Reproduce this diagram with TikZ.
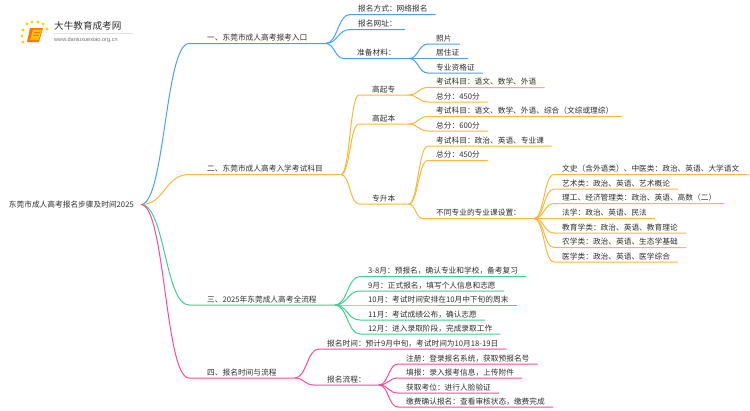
\documentclass[tikz,border=0pt]{standalone}
\usepackage{fontspec}
\setmainfont{Noto Sans CJK SC}
\newfontfamily\urlfont{Liberation Sans}
\usetikzlibrary{calc}
\definecolor{mapblue}{HTML}{4A9FFB}
\definecolor{maporange}{HTML}{FBB73C}
\definecolor{mapgreen}{HTML}{3FD08F}
\definecolor{mappink}{HTML}{FB4A96}
\definecolor{maptext}{HTML}{2E2E2E}
\tikzstyle{every node}=[font=\fontsize{7.7}{9}\selectfont, text=maptext, text height=6.6pt, text depth=1.4pt, inner ysep=1pt]
\tikzstyle{title} = [anchor=east, inner xsep=7pt, inner ysep=0pt]
\tikzstyle{topic} = [anchor=south west, inner xsep=18pt]
\tikzstyle{mid} = [anchor=south west, inner xsep=13pt]
\tikzstyle{leaf} = [anchor=south west, inner xsep=8pt]
\tikzstyle{branch} = [to path={let \p1=(\tikztostart), \p2=(\tikztotarget) in .. controls (\x1*0.5+\x2*0.5,\y1) and (\x1*0.5+\x2*0.5,\y2) .. (\p2) \tikztonodes}]
\tikzstyle{lineblue} = [draw=mapblue, line width=1pt]
\tikzstyle{lineorange} = [draw=maporange, line width=1pt]
\tikzstyle{linegreen} = [draw=mapgreen, line width=1pt]
\tikzstyle{linepink} = [draw=mappink, line width=1pt]
\begin{document}
\begin{tikzpicture}[x=1pt, y=-1pt]
    \useasboundingbox (0,0) rectangle (750,410);
    % Logo
    \fill[orange!90!red] (30,28) -- (43,28) -- (39,42) -- (27,42) -- cycle;
    \fill[yellow!55!orange] (33,29.5) -- (42,29.5) -- (38.6,40) -- (30,40) -- cycle;
    \draw[orange!90!red, line width=0.5pt] (33.5,32.5) -- (40,32.5) (33,35) -- (39.3,35);
    \foreach \dotx/\doty in {23/30, 27/24, 32/22, 38/22, 43/24, 47/29, 22/36, 23/42}
        \fill[yellow!70!orange] (\dotx,\doty) circle (1.7);
    \draw[black!12, line width=0.5pt] (54,33) -- (133,33);
    \node [anchor=west, inner sep=0pt, font=\fontsize{9.6}{11}\selectfont] (brand) at (54,27) {大牛教育成考网};
    \node [anchor=west, inner sep=0pt, font=\urlfont\fontsize{5.6}{7}\selectfont, text=black!55] (brandurl) at (54,38.5) {www.daniuxuexiao.org.cn};
    % Place nodes
    \node [title] (root) at (141,204.5) {东莞市成人高考报名步骤及时间2025};
    \node [topic] (portal) at (189,43.5) {一、东莞市成人高考报考入口};
    \node [topic] (subjects) at (189,174.5) {二、东莞市成人高考入学考试科目};
    \node [topic] (process) at (189,305) {三、2025年东莞成人高考全流程};
    \node [topic] (timing) at (189,378) {四、报名时间与流程};
    % first branch
    \node [leaf] (method) at (350,14.5) {报名方式：网络报名};
    \node [leaf] (website) at (350,29.5) {报名网址：};
    \node [mid] (material) at (344,58.5) {准备材料：};
    \node [leaf] (photo) at (428,44) {照片};
    \node [leaf] (idcard) at (428,58.5) {居住证};
    \node [leaf] (cert) at (428,73) {专业资格证};
    % second branch
    \node [mid] (junior) at (359,95) {高起专};
    \node [leaf] (jusubject) at (428,87.5) {考试科目：语文、数学、外语};
    \node [leaf] (juscore) at (428,102) {总分：450分};
    \node [mid] (bachelor) at (359,124) {高起本};
    \node [leaf] (basubject) at (428,116.5) {考试科目：语文、数学、外语、综合（文综或理综）};
    \node [leaf] (bascore) at (428,131) {总分：600分};
    \node [mid] (upgrade) at (359,204) {专升本};
    \node [leaf] (upsubject) at (428,146) {考试科目：政治、英语、专业课};
    \node [leaf] (upscore) at (428,160.5) {总分：450分};
    \node [mid] (major) at (423,218.5) {不同专业的专业课设置：};
    \node [leaf] (history) at (554,174.5) {文史（含外语类）、中医类：政治、英语、大学语文};
    \node [leaf] (art) at (554,189) {艺术类：政治、英语、艺术概论};
    \node [leaf] (science) at (554,203.5) {理工、经济管理类：政治、英语、高数（二）};
    \node [leaf] (law) at (554,218.5) {法学：政治、英语、民法};
    \node [leaf] (education) at (554,233) {教育学类：政治、英语、教育理论};
    \node [leaf] (farming) at (554,247.5) {农学类：政治、英语、生态学基础};
    \node [leaf] (medicine) at (554,262) {医学类：政治、英语、医学综合};
    % third branch
    \node [leaf] (march) at (360,276.5) {3-8月：预报名，确认专业和学校，备考复习};
    \node [leaf] (sept) at (360,291) {9月：正式报名，填写个人信息和志愿};
    \node [leaf] (oct) at (360,305) {10月：考试时间安排在10月中下旬的周末};
    \node [leaf] (nov) at (360,320) {11月：考试成绩公布，确认志愿};
    \node [leaf] (dec) at (360,334) {12月：进入录取阶段，完成录取工作};
    % fourth branch
    \node [leaf] (regtime) at (319,349) {报名时间：预计9月中旬，考试时间为10月18-19日};
    \node [mid] (regflow) at (314,385) {报名流程：};
    \node [leaf] (signup) at (398,364) {注册：登录报名系统，获取预报名号};
    \node [leaf] (entry) at (398,378) {填报：录入报考信息，上传附件};
    \node [leaf] (seat) at (398,393) {获取考位：进行人脸验证};
    \node [leaf] (payment) at (398,407) {缴费确认报名：查看审核状态，缴费完成};
    % Draw edges
    \path [lineblue] (root.east) to[branch] (portal.south west) -- (portal.south east);
    \path [lineorange] (root.east) to[branch] (subjects.south west) -- (subjects.south east);
    \path [linegreen] (root.east) to[branch] (process.south west) -- (process.south east);
    \path [linepink] (root.east) to[branch] (timing.south west) -- (timing.south east);
    \path [lineblue] (portal.south east) to[branch] (method.south west) -- (method.south east);
    \path [lineblue] (portal.south east) to[branch] (website.south west) -- (website.south east);
    \path [lineblue] (portal.south east) to[branch] (material.south west) -- (material.south east);
    \path [lineblue] (material.south east) to[branch] (photo.south west) -- (photo.south east);
    \path [lineblue] (material.south east) to[branch] (idcard.south west) -- (idcard.south east);
    \path [lineblue] (material.south east) to[branch] (cert.south west) -- (cert.south east);
    \path [lineorange] (subjects.south east) to[branch] (junior.south west) -- (junior.south east);
    \path [lineorange] (subjects.south east) to[branch] (bachelor.south west) -- (bachelor.south east);
    \path [lineorange] (subjects.south east) to[branch] (upgrade.south west) -- (upgrade.south east);
    \path [lineorange] (junior.south east) to[branch] (jusubject.south west) -- (jusubject.south east);
    \path [lineorange] (junior.south east) to[branch] (juscore.south west) -- (juscore.south east);
    \path [lineorange] (bachelor.south east) to[branch] (basubject.south west) -- (basubject.south east);
    \path [lineorange] (bachelor.south east) to[branch] (bascore.south west) -- (bascore.south east);
    \path [lineorange] (upgrade.south east) to[branch] (upsubject.south west) -- (upsubject.south east);
    \path [lineorange] (upgrade.south east) to[branch] (upscore.south west) -- (upscore.south east);
    \path [lineorange] (upgrade.south east) to[branch] (major.south west) -- (major.south east);
    \path [lineorange] (major.south east) to[branch] (history.south west) -- (history.south east);
    \path [lineorange] (major.south east) to[branch] (art.south west) -- (art.south east);
    \path [lineorange] (major.south east) to[branch] (science.south west) -- (science.south east);
    \path [lineorange] (major.south east) to[branch] (law.south west) -- (law.south east);
    \path [lineorange] (major.south east) to[branch] (education.south west) -- (education.south east);
    \path [lineorange] (major.south east) to[branch] (farming.south west) -- (farming.south east);
    \path [lineorange] (major.south east) to[branch] (medicine.south west) -- (medicine.south east);
    \path [linegreen] (process.south east) to[branch] (march.south west) -- (march.south east);
    \path [linegreen] (process.south east) to[branch] (sept.south west) -- (sept.south east);
    \path [linegreen] (process.south east) to[branch] (oct.south west) -- (oct.south east);
    \path [linegreen] (process.south east) to[branch] (nov.south west) -- (nov.south east);
    \path [linegreen] (process.south east) to[branch] (dec.south west) -- (dec.south east);
    \path [linepink] (timing.south east) to[branch] (regtime.south west) -- (regtime.south east);
    \path [linepink] (timing.south east) to[branch] (regflow.south west) -- (regflow.south east);
    \path [linepink] (regflow.south east) to[branch] (signup.south west) -- (signup.south east);
    \path [linepink] (regflow.south east) to[branch] (entry.south west) -- (entry.south east);
    \path [linepink] (regflow.south east) to[branch] (seat.south west) -- (seat.south east);
    \path [linepink] (regflow.south east) to[branch] (payment.south west) -- (payment.south east);
\end{tikzpicture}
\end{document}
